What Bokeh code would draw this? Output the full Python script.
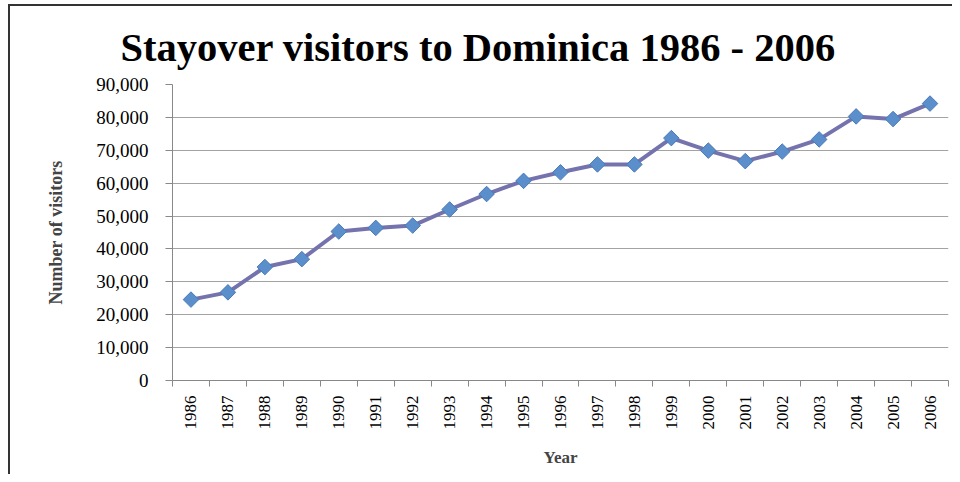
import math
from bokeh.plotting import figure
from bokeh.models import Range1d, FixedTicker, NumeralTickFormatter
from bokeh.embed import file_html
from bokeh.resources import INLINE

years = list(range(1986, 2007))
visitors = [24600, 26800, 34500, 36900, 45300, 46400, 47100, 52000, 56700,
            60700, 63300, 65700, 65700, 73700, 69900, 66700, 69600, 73300,
            80300, 79500, 84200]
y_ticks = [0, 10000, 20000, 30000, 40000, 50000, 60000, 70000, 80000, 90000]

p = figure(width=944, height=470, output_backend="svg", toolbar_location=None,
           x_range=Range1d(1985.5, 2006.5), y_range=Range1d(0, 90000),
           min_border_left=162, min_border_right=6, min_border_top=78,
           min_border_bottom=96,
           styles={"margin-left": "8px", "margin-top": "4px",
                   "border-left": "2px solid #333", "border-top": "2px solid #333"})

p.title.text = "Stayover visitors to Dominica 1986 - 2006"
p.title.text_font = "Liberation Serif"
p.title.text_font_size = "40.5px"
p.title.text_font_style = "bold"
p.title.text_color = "black"
p.title.align = "left"
p.title.offset = -52
p.title.standoff = 30

p.outline_line_color = None
p.background_fill_color = "white"
p.border_fill_color = "white"

# x axis
p.xaxis.ticker = FixedTicker(ticks=years, minor_ticks=[y - 0.5 for y in years] + [years[-1] + 0.5])
p.xaxis.major_label_overrides = {y: str(y) for y in years}
p.xaxis.major_label_orientation = math.pi / 2
p.xaxis.major_tick_line_color = None
p.xaxis.major_tick_out = 0
p.xaxis.major_tick_in = 0
p.xaxis.minor_tick_out = 6
p.xaxis.minor_tick_in = 0
p.xaxis.minor_tick_line_color = "#888888"
p.xaxis.axis_line_color = "#888888"
p.xaxis.major_label_text_font = "Liberation Serif"
p.xaxis.major_label_text_font_size = "17px"
p.xaxis.major_label_text_color = "black"
p.xaxis.major_label_standoff = 9
p.xaxis.axis_label = "Year"
p.xaxis.axis_label_text_font = "Liberation Serif"
p.xaxis.axis_label_text_font_size = "17px"
p.xaxis.axis_label_text_font_style = "bold"
p.xaxis.axis_label_standoff = 15

# y axis
p.yaxis.ticker = FixedTicker(ticks=y_ticks)
p.yaxis.formatter = NumeralTickFormatter(format="0,0")
p.yaxis.major_tick_out = 7
p.yaxis.major_tick_in = 0
p.yaxis.minor_tick_line_color = None
p.yaxis.major_tick_line_color = "#888888"
p.yaxis.axis_line_color = "#888888"
p.yaxis.major_label_text_font = "Liberation Serif"
p.yaxis.major_label_text_font_size = "19px"
p.yaxis.major_label_text_color = "black"
p.yaxis.major_label_standoff = 17
p.yaxis.axis_label = "Number of visitors"
p.yaxis.axis_label_text_font = "Liberation Serif"
p.yaxis.axis_label_text_font_size = "18px"
p.yaxis.axis_label_text_font_style = "bold"
p.yaxis.axis_label_standoff = 27

p.xgrid.grid_line_color = None
p.ygrid.ticker = FixedTicker(ticks=y_ticks)
p.ygrid.grid_line_color = "#A3A3A3"
p.ygrid.grid_line_width = 1

p.line(years, visitors, line_color="#7573AD", line_width=4)
p.scatter(years, visitors, marker="square", angle=math.pi / 4, size=11,
          fill_color="#5B8FCB", line_color="#4A7AB8", line_width=1)

open("out.html", "w").write(file_html(p, INLINE))
